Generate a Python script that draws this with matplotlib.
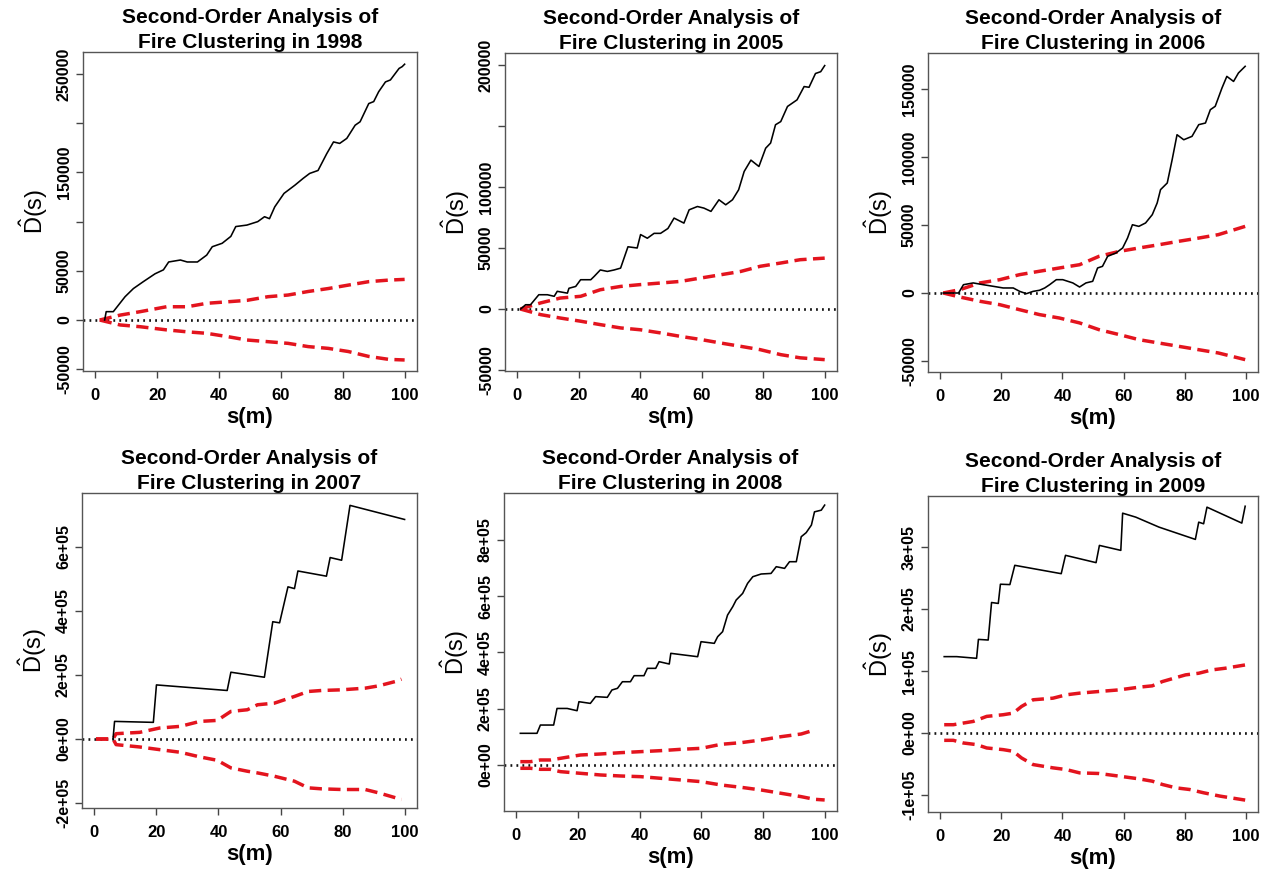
import matplotlib
matplotlib.use("Agg")
import matplotlib.pyplot as plt

plt.rcParams['font.family'] = ['Liberation Sans', 'DejaVu Sans']
plt.rcParams['mathtext.fontset'] = 'custom'
plt.rcParams['mathtext.rm'] = 'Liberation Sans'
plt.rcParams['mathtext.it'] = 'Liberation Sans:italic'
plt.rcParams['lines.scale_dashes'] = False

# ---------------- data ----------------
years = ["1998", "2005", "2006", "2007", "2008", "2009"]

# 1998
s_1998 = [3, 3.5, 5.8, 9.6, 12.3, 15.5, 19.3, 22, 23.7, 27.5, 29.7, 33, 36, 37.8, 41, 43.8, 45.4, 49, 52.5, 54.7,
          56.3, 58, 61, 64.5, 67.2, 69.3, 72, 74.8, 77, 79, 81.3, 84, 85.6, 88.4, 90, 91.6, 93.8, 95.4, 98.2, 99.2, 100]
d_1998 = [0, 8500, 8500, 23700, 32000, 39000, 47000, 51000, 59000, 61000, 59000, 59000, 66000, 74500, 78000, 85000,
          95000, 96500, 100000, 105000, 103000, 115000, 128700, 137000, 144000, 149000, 152000, 169000, 181000, 179500,
          184600, 198000, 201500, 220000, 222000, 232000, 242000, 244000, 255700, 257500, 260000]
su_1998 = [1.4, 8, 14.5, 23, 29.7, 36, 43, 49, 55.8, 62.3, 68.8, 75.3, 81.8, 88.4, 94.9, 100]
up_1998 = [0, 5000, 8500, 13500, 13500, 17000, 18600, 20000, 23700, 25400, 29000, 32000, 35500, 39000, 40600, 41300]
sl_1998 = [1.4, 8, 14.5, 23, 29.7, 36, 43, 49, 55.8, 62.3, 68.8, 75.3, 81.8, 88.4, 94.9, 100]
lo_1998 = [0, -5000, -6800, -10000, -12000, -13500, -17000, -20300, -22000, -23700, -27000, -28800, -32000, -37000,
           -40000, -40600]

# 2005
s_2005 = [1.1, 2.7, 4.3, 7, 9.8, 12, 13, 16.3, 16.8, 19, 20.6, 23.9, 25, 27, 29.3, 31.5, 33.6, 36, 39, 40.1, 42.3,
          44.5, 46.6, 49, 51, 54.2, 55.9, 58.6, 60.7, 63, 65.6, 67.8, 70, 72, 73.8, 76, 78.6, 80.8, 82.4, 84, 85.7,
          87.9, 91, 93.3, 94.9, 97, 98.7, 100]
d_2005 = [0, 3500, 3500, 11700, 11700, 10400, 14500, 13000, 17000, 18500, 24000, 24000, 26700, 32000, 30800, 32000,
          33500, 51000, 50000, 61000, 58000, 62000, 62000, 66000, 74500, 70400, 81300, 84000, 82700, 80000, 89500,
          85400, 89500, 97700, 112700, 122000, 116800, 131800, 136000, 151000, 153600, 166000, 171400, 182300, 181700,
          193000, 194500, 199500]
su_2005 = [1, 7.6, 14, 20.6, 27, 33.6, 40, 46.6, 53, 59.7, 66, 72.7, 79, 85.7, 92, 100]
up_2005 = [0, 5000, 9000, 10400, 15800, 18500, 20000, 21300, 22600, 25400, 28000, 30800, 35000, 37700, 40400, 41700]
sl_2005 = [1, 7.6, 14, 20.6, 27, 33.6, 40, 46.6, 53, 59.7, 66, 72.7, 79, 85.7, 92, 100]
lo_2005 = [0, -4600, -7400, -10000, -12800, -15500, -17000, -19600, -22400, -25000, -27800, -30600, -33300, -37400,
           -40000, -41500]

# 2006
s_2006 = [1, 6, 7.6, 10.8, 14.1, 17.4, 20.6, 23.9, 26, 28.2, 30.4, 32.5, 34.2, 35.8, 38, 40.1, 43.4, 45.6, 47.7,
          49.9, 51.5, 53.1, 54.8, 57.5, 59.7, 61.3, 62.9, 65, 67.2, 69.4, 71, 72.1, 74.3, 75.9, 77.5, 79.7, 82.4,
          84.6, 86.8, 88.4, 90, 92.2, 93.8, 96, 97.6, 99.8]
d_2006 = [0, 0, 6100, 7400, 6100, 4900, 3700, 3700, 1200, -500, 1200, 2000, 3700, 6100, 9800, 9800, 7400, 4400, 7400,
          8600, 18400, 19600, 27000, 29400, 33100, 40400, 50200, 49000, 51500, 57600, 66200, 76000, 80900, 98000,
          116400, 112700, 115200, 123800, 125000, 134800, 137300, 150700, 159300, 155600, 161800, 166700]
su_2006 = [1, 6.5, 13, 19.5, 26, 32.5, 39, 45.6, 52, 58.6, 65, 71.6, 78, 84.6, 91, 99.8]
up_2006 = [0, 2500, 7400, 9800, 13500, 16000, 18400, 20800, 27000, 30600, 33100, 35500, 38000, 40400, 42900, 49000]
sl_2006 = [1, 6.5, 13, 19.5, 26, 32.5, 39, 45.6, 52, 58.6, 65, 71.6, 78, 84.6, 91, 99.8]
lo_2006 = [0, -3000, -6100, -8600, -12300, -15900, -18400, -22000, -27000, -30600, -34300, -36800, -39200, -41700,
           -44100, -49000]

# 2007
s_2007 = [6, 6.5, 19, 20, 42.8, 44, 54.8, 57.5, 59.7, 62.4, 64.5, 65.6, 74.8, 76, 79.7, 82.4, 100]
d_2007 = [0, 55000, 52000, 169000, 151600, 208700, 193000, 366500, 363000, 475500, 470000, 525000, 508800, 567000,
          558600, 730000, 686000]
su_2007 = [0.5, 6, 7, 14.6, 21, 27.7, 34, 39.6, 44, 49.3, 52.6, 58, 64.5, 68.9, 73.2, 79.7, 87.3, 91.6, 97, 99]
up_2007 = [0, 0, 16600, 20800, 34300, 39500, 55000, 58100, 86200, 91400, 107000, 112000, 133000, 148500, 151600,
           153700, 158900, 166000, 179600, 186900]
sl_2007 = [0.5, 6, 7, 14.6, 21, 27.7, 34, 39.6, 44, 49.3, 52.6, 58, 64.5, 68.9, 73.2, 79.7, 87.3, 91.6, 99]
lo_2007 = [0, 0, -17600, -24900, -33200, -41500, -56000, -66500, -90300, -100700, -106000, -116300, -131900, -152600,
           -155700, -157800, -157800, -168200, -189000]

# 2008
s_2008 = [1.3, 6.7, 7.8, 12.1, 13.2, 16.5, 19.7, 20.3, 24, 25.7, 29.5, 31, 32.8, 34.4, 37, 38.2, 41.4, 42.5, 45.2,
          46.3, 49.6, 50.1, 54.4, 58.8, 59.9, 64.2, 65.3, 66.9, 68.5, 70.2, 71.3, 73.4, 75, 76.7, 79.4, 82.6, 84.3,
          87, 88.6, 90.8, 92.4, 94, 95.7, 96.7, 98.9, 100]
d_2008 = [112600, 112600, 142000, 142000, 201000, 201000, 193000, 225000, 219000, 243000, 240500, 266600, 272500,
          296000, 296000, 317500, 317500, 343600, 343600, 367300, 359000, 397000, 391000, 385000, 438400, 432500,
          456200, 474000, 533000, 563000, 586500, 610000, 645700, 669400, 679000, 681000, 705000, 699000, 722700,
          722700, 811600, 826000, 853000, 900000, 906000, 924000]
su_2008 = [1.3, 4.6, 7.8, 11, 14.3, 20.8, 27.3, 33.8, 40.3, 46.9, 53.4, 59.9, 66.4, 72.9, 79.4, 85.9, 92.4, 96.7]
up_2008 = [11800, 11800, 17800, 17800, 23700, 35500, 39100, 43800, 47400, 51000, 55700, 59200, 73500, 79400, 88900,
           100700, 110200, 124400]
sl_2008 = [1.3, 4.6, 7.8, 11, 14.3, 20.8, 27.3, 33.8, 40.3, 46.9, 53.4, 59.9, 66.4, 72.9, 79.4, 85.9, 92.4, 96.7, 100]
lo_2008 = [-11800, -11800, -15400, -15400, -23700, -29600, -35500, -39100, -41500, -47400, -53300, -59200, -71100,
           -79400, -88900, -100700, -112600, -122000, -124400]

# 2009
s_2009 = [1.3, 5.4, 11.9, 12.5, 15.7, 16.8, 19, 19.7, 22.8, 24.4, 39.6, 41, 51, 52.1, 59.1, 59.7, 64, 71.6, 83.5,
          84.6, 86.2, 87.3, 98.7, 99.8]
d_2009 = [123200, 123200, 120500, 151000, 150000, 210500, 209000, 240000, 239400, 270500, 257000, 286600, 274800,
          302600, 294600, 354600, 348200, 332100, 312300, 340100, 337500, 364300, 338600, 365800]
su_2009 = [1.3, 4.3, 7.6, 10.8, 15.2, 20.6, 23.9, 26.6, 30.4, 36.9, 41.2, 45.6, 52, 58.6, 65, 69.4, 72.7, 80.3, 84.6,
           88.9, 93.3, 99.8]
up_2009 = [13400, 13400, 16100, 18700, 26800, 29500, 32100, 42800, 53600, 56200, 61600, 64300, 67000, 69600, 73900,
           76100, 83000, 93800, 96400, 101800, 104500, 109800]
sl_2009 = [1.3, 4.3, 7.6, 11.9, 15.2, 20.6, 23.9, 26.6, 30.4, 36.9, 41.2, 45.6, 52, 58.6, 65, 69.4, 72.7, 77.1, 81.6,
           86.2, 91.6, 99.8]
lo_2009 = [-11800, -11800, -16100, -18700, -24100, -26800, -29500, -40200, -50900, -56200, -58900, -64300, -65300,
           -69600, -73900, -77700, -83000, -88400, -91100, -96400, -101800, -108200]

x_ticks = [0, 20, 40, 60, 80, 100]
y_ticks = {
    "1998": [-50000, 0, 50000, 100000, 150000, 200000, 250000],
    "2005": [-50000, 0, 50000, 100000, 150000, 200000],
    "2006": [-50000, 0, 50000, 100000, 150000],
    "2007": [-2e5, 0, 2e5, 4e5, 6e5],
    "2008": [0, 2e5, 4e5, 6e5, 8e5],
    "2009": [-1e5, 0, 1e5, 2e5, 3e5],
}
y_tick_labels = {
    "1998": ["-50000", "0", "50000", "", "150000", "", "250000"],
    "2005": ["-50000", "0", "50000", "100000", "", "200000"],
    "2006": ["-50000", "0", "50000", "100000", "150000"],
    "2007": ["-2e+05", "0e+00", "2e+05", "4e+05", "6e+05"],
    "2008": ["0e+00", "2e+05", "4e+05", "6e+05", "8e+05"],
    "2009": ["-1e+05", "0e+00", "1e+05", "2e+05", "3e+05"],
}
series = {
    "1998": (s_1998, d_1998, su_1998, up_1998, sl_1998, lo_1998),
    "2005": (s_2005, d_2005, su_2005, up_2005, sl_2005, lo_2005),
    "2006": (s_2006, d_2006, su_2006, up_2006, sl_2006, lo_2006),
    "2007": (s_2007, d_2007, su_2007, up_2007, sl_2007, lo_2007),
    "2008": (s_2008, d_2008, su_2008, up_2008, sl_2008, lo_2008),
    "2009": (s_2009, d_2009, su_2009, up_2009, sl_2009, lo_2009),
}

# ---------------- layout (pixels: left, right, top, bottom) ----------------
W, H = 1264, 877
boxes = {
    "1998": (83, 417, 52, 371, (-51800, 272400)),
    "2005": (505, 837, 53, 371, (-50800, 209800)),
    "2006": (928, 1258, 53, 372, (-58100, 176500)),
    "2007": (82, 417, 493, 808, (-215600, 768700)),
    "2008": (504, 837, 493, 811, (-163600, 967000)),
    "2009": (928, 1258, 496, 812, (-127400, 382300)),
}

RED = "#e3141e"

fig = plt.figure(figsize=(W / 100, H / 100), dpi=100)
fig.patch.set_facecolor("white")

for yr in years:
    l, r, t, b, ylim = boxes[yr]
    ax = fig.add_axes([l / W, 1 - b / H, (r - l) / W, (b - t) / H])
    s, d, su, up, sl, lo = series[yr]
    ax.axhline(0, color="#111111", lw=1.9, linestyle=(0, (1.3, 3.0)), zorder=1)
    ax.plot(su, up, color=RED, lw=2.5, linestyle=(0, (8.8, 4.6)), zorder=2)
    ax.plot(sl, lo, color=RED, lw=2.5, linestyle=(0, (8.8, 4.6)), zorder=2)
    ax.plot(s, d, color="black", lw=1.15, zorder=3)
    ax.set_xlim(-4, 104)
    ax.set_ylim(*ylim)
    ax.set_xticks(x_ticks)
    ax.set_xticklabels([str(v) for v in x_ticks], fontsize=12, fontweight="bold")
    ax.set_yticks(y_ticks[yr])
    ax.set_yticklabels(y_tick_labels[yr], fontsize=11.5, fontweight="bold", rotation=90, va="center")
    ax.tick_params(direction="out", length=5, width=1, color="#444444", pad=4)
    ax.tick_params(axis="x", pad=7)
    ax.tick_params(axis="y", pad=3)
    for sp in ax.spines.values():
        sp.set_color("#555555")
        sp.set_linewidth(1.0)
    ax.set_xlabel("s(m)", fontsize=16, fontweight="bold", labelpad=3)
    ax.set_ylabel(r"$\hat{\mathrm{D}}\mathrm{(s)}$", fontsize=17, labelpad=5)
    ax.set_title("Second-Order Analysis of\nFire Clustering in " + yr, fontsize=15,
                 fontweight="bold", pad=1.5, linespacing=1.42)

fig.savefig("out.png", dpi=100, facecolor="white")
